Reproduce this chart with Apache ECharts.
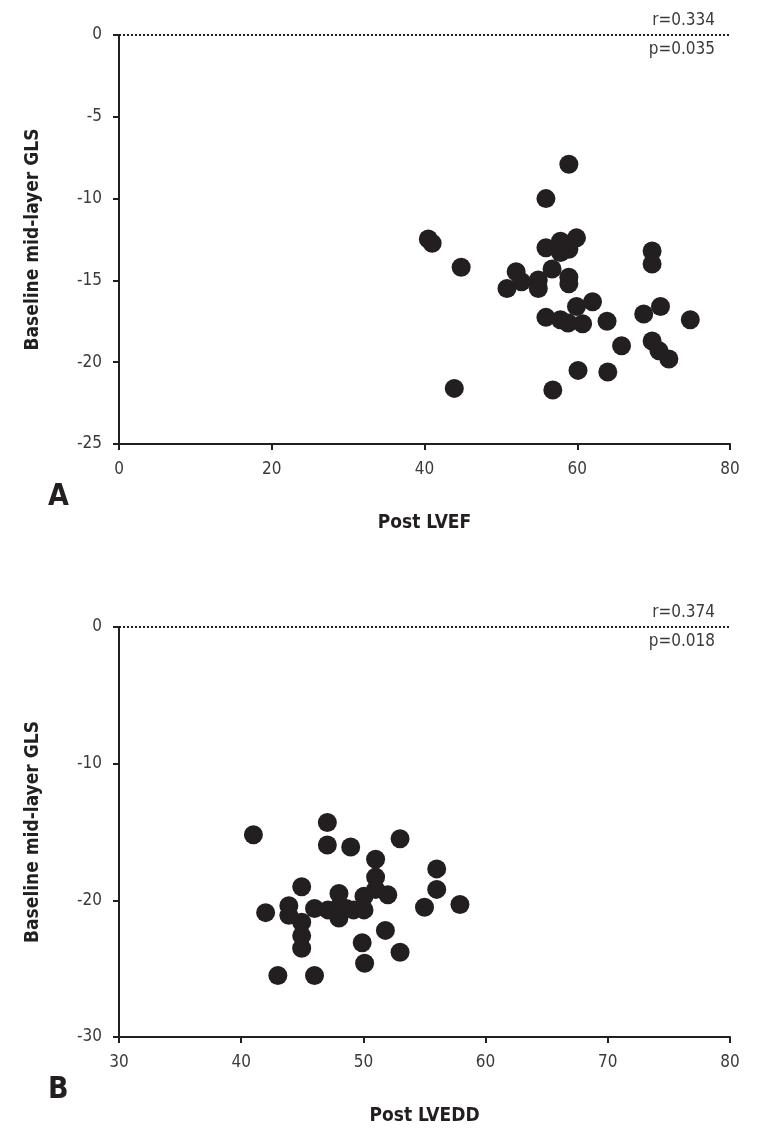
<!DOCTYPE html>
<html><head><meta charset="utf-8">
<script src="https://cdn.jsdelivr.net/npm/echarts@6/dist/echarts.min.js"></script>
<style>html,body{margin:0;padding:0;background:#fff}#c{width:769px;height:1141px}</style>
</head><body><div id="c"></div>
<script>
// Panel A: Post LVEF vs Baseline mid-layer GLS
const lvef = [58.9,55.9,40.5,41.0,44.8,52.0,52.7,50.8,54.9,54.9,55.9,57.8,59.9,58.9,57.8,56.7,58.9,58.9,55.9,57.8,58.8,60.7,59.9,62.0,63.9,65.8,64.0,60.1,56.8,43.9,68.7,69.8,69.8,70.9,74.8,69.8,70.7,72.0];
const glsA = [-7.9,-10.0,-12.47,-12.73,-14.2,-14.47,-15.08,-15.5,-14.97,-15.5,-13.0,-12.6,-12.4,-13.1,-13.3,-14.3,-14.8,-15.2,-17.26,-17.4,-17.6,-17.65,-16.6,-16.3,-17.5,-19.0,-20.6,-20.5,-21.7,-21.6,-17.05,-13.2,-14.0,-16.6,-17.4,-18.7,-19.3,-19.8];
// Panel B: Post LVEDD vs Baseline mid-layer GLS
const lvedd = [41.0,47.05,47.05,48.96,53.0,51.0,51.0,56.0,56.0,44.95,42.0,43.9,43.9,44.95,44.95,44.95,46.0,47.1,48.0,48.0,48.0,48.6,49.2,50.05,50.05,51.0,52.0,55.0,57.9,51.8,49.9,53.0,50.1,43.0,46.0];
const glsB = [-15.2,-14.3,-15.95,-16.1,-15.5,-17.0,-18.3,-17.7,-19.2,-19.0,-20.9,-20.4,-21.1,-21.6,-22.6,-23.5,-20.6,-20.7,-19.5,-21.3,-20.5,-20.6,-20.7,-19.7,-20.7,-19.2,-19.6,-20.5,-20.3,-22.2,-23.1,-23.8,-24.6,-25.5,-25.5];
const statsA = ['r=0.334','p=0.035'];
const statsB = ['r=0.374','p=0.018'];
const xTitleA = 'Post LVEF', xTitleB = 'Post LVEDD', yTitle = 'Baseline mid-layer GLS';

const FONT = '"Liberation Sans Narrow","DejaVu Sans Condensed","Liberation Sans",sans-serif';
const INK = '#231f20';
function xAxis(idx, min, max, interval, name){
  return {gridIndex: idx, type:'value', min, max, interval, name,
    nameLocation:'middle', nameGap:70,
    nameTextStyle:{fontFamily:FONT, fontWeight:'bold', fontSize:19, color:INK},
    axisLine:{show:true, onZero:false, lineStyle:{color:INK, width:2}},
    axisTick:{show:true, inside:false, length:6, lineStyle:{color:INK, width:2}},
    axisLabel:{fontFamily:FONT, fontSize:17, color:'#3a3a3a', margin:17},
    splitLine:{show:false}};
}
function yAxis(idx, min, max, interval){
  return {gridIndex: idx, type:'value', min, max, interval, name:yTitle,
    nameLocation:'middle', nameGap:76, nameRotate:90,
    nameTextStyle:{fontFamily:FONT, fontWeight:'bold', fontSize:19, color:INK},
    axisLine:{show:true, onZero:false, lineStyle:{color:INK, width:2}},
    axisTick:{show:true, inside:false, length:6, lineStyle:{color:INK, width:2}},
    axisLabel:{fontFamily:FONT, fontSize:17, color:'#3a3a3a', margin:17},
    splitLine:{show:false}};
}
function scatter(idx, xs, ys, stats){
  return {type:'scatter', xAxisIndex:idx, yAxisIndex:idx, symbolSize:19,
    itemStyle:{color:INK, opacity:1},
    data: xs.map((x,i)=>[x, ys[i]]),
    markLine:{silent:true, symbol:'none', animation:false,
      lineStyle:{color:INK, type:[2,2], width:2},
      data:[
        {yAxis:0, label:{show:true, position:'insideEndTop', formatter:stats[0], fontFamily:FONT, fontSize:17, color:'#3a3a3a', distance:[15,6]}},
        {yAxis:0, label:{show:true, position:'insideEndBottom', formatter:stats[1], fontFamily:FONT, fontSize:17, color:'#3a3a3a', distance:[15,6]}}
      ]}};
}
const chart = echarts.init(document.getElementById('c'), null, {renderer:'canvas'});
chart.setOption({
  animation:false,
  backgroundColor:'#fff',
  grid:[{left:119, top:35, width:611, height:409},{left:119, top:627, width:611, height:410}],
  xAxis:[xAxis(0,0,80,20,xTitleA), xAxis(1,30,80,10,xTitleB)],
  yAxis:[yAxis(0,-25,0,5), yAxis(1,-30,0,10)],
  series:[scatter(0,lvef,glsA,statsA), scatter(1,lvedd,glsB,statsB)],
  graphic:[
    {type:'text', left:48, top:482, style:{text:'A', fontFamily:FONT, fontWeight:'bold', fontSize:30, fill:INK}},
    {type:'text', left:48, top:1075, style:{text:'B', fontFamily:FONT, fontWeight:'bold', fontSize:30, fill:INK}}
  ]
});
</script></body></html>
